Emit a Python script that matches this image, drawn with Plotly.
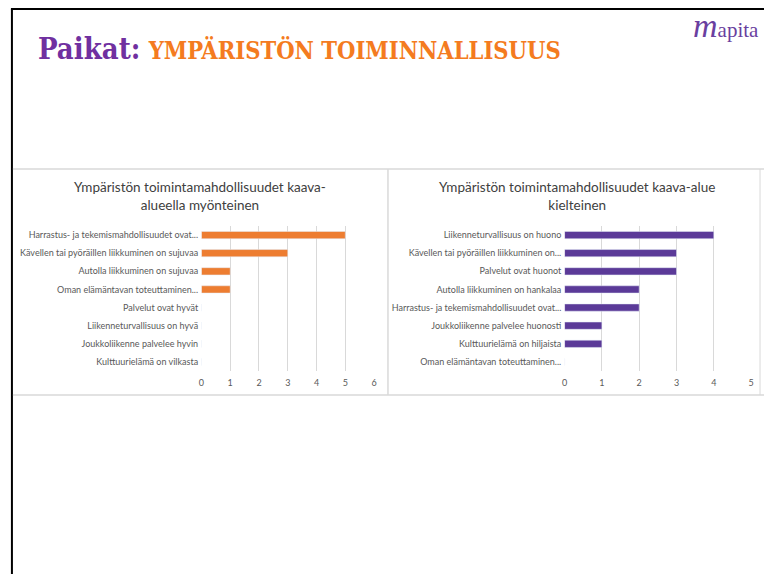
import plotly.graph_objects as go

W, H = 767, 574

# ---- data ----
left_categories = [
    "Harrastus- ja tekemismahdollisuudet ovat...",
    "Kävellen tai pyöräillen liikkuminen on sujuvaa",
    "Autolla liikkuminen on sujuvaa",
    "Oman elämäntavan toteuttaminen...",
    "Palvelut ovat hyvät",
    "Liikenneturvallisuus on hyvä",
    "Joukkoliikenne palvelee hyvin",
    "Kulttuurielämä on vilkasta",
]
left_values = [5, 3, 1, 1, 0, 0, 0, 0]

right_categories = [
    "Liikenneturvallisuus on huono",
    "Kävellen tai pyöräillen liikkuminen on...",
    "Palvelut ovat huonot",
    "Autolla liikkuminen on hankalaa",
    "Harrastus- ja tekemismahdollisuudet ovat...",
    "Joukkoliikenne palvelee huonosti",
    "Kulttuurielämä on hiljaista",
    "Oman elämäntavan toteuttaminen...",
]
right_values = [4, 3, 3, 2, 2, 1, 1, 0]

left_title = "Ympäristön toimintamahdollisuudet kaava-<br>alueella myönteinen"
right_title = "Ympäristön toimintamahdollisuudet kaava-alue<br>kielteinen"
left_ticks = [0, 1, 2, 3, 4, 5, 6]
right_ticks = [0, 1, 2, 3, 4, 5]

ORANGE = "#ED7D31"
PURPLE = "#5B3A98"
GRID = "#D9D9D9"
LABEL = "#595959"

def px_x(v):
    return v / W

def px_y(v):
    return 1 - v / H

fig = go.Figure()
fig.add_trace(go.Bar(x=left_values, y=left_categories, orientation="h",
                     marker_color=ORANGE, xaxis="x", yaxis="y", showlegend=False))
fig.add_trace(go.Bar(x=right_values, y=right_categories, orientation="h",
                     marker_color=PURPLE, xaxis="x2", yaxis="y2", showlegend=False))

ydom = [px_y(371), px_y(226)]
axis_font = dict(family="Lato", size=9, color=LABEL)

fig.update_layout(
    width=W, height=H,
    margin=dict(l=0, r=0, t=0, b=0),
    paper_bgcolor="white", plot_bgcolor="white",
    bargap=0.6,
    xaxis=dict(domain=[px_x(200), px_x(374)], range=[0, 6], tickvals=left_ticks,
               showgrid=True, gridcolor=GRID, gridwidth=1, zeroline=False,
               showline=False, ticks="", tickfont=axis_font, anchor="y",
               ticklabelstandoff=5),
    yaxis=dict(domain=ydom, categoryorder="array", categoryarray=left_categories,
               autorange="reversed", showgrid=False, zeroline=False, showline=False,
               ticks="", tickfont=axis_font, anchor="x", ticksuffix=" "),
    xaxis2=dict(domain=[px_x(566), px_x(754)], range=[0, 5], tickvals=right_ticks,
                showgrid=True, gridcolor=GRID, gridwidth=1, zeroline=False,
                showline=False, ticks="", tickfont=axis_font, anchor="y2",
                ticklabelstandoff=5),
    yaxis2=dict(domain=ydom, categoryorder="array", categoryarray=right_categories,
                autorange="reversed", showgrid=False, zeroline=False, showline=False,
                ticks="", tickfont=axis_font, anchor="x2", ticksuffix=" "),
)

shapes = [
    # slide black border (left and top)
    dict(type="line", xref="paper", yref="paper", x0=px_x(9), x1=px_x(9), y0=0, y1=px_y(9),
         line=dict(color="black", width=2)),
    dict(type="line", xref="paper", yref="paper", x0=px_x(8), x1=1, y0=px_y(9), y1=px_y(9),
         line=dict(color="black", width=2)),
    # chart panel borders
    dict(type="line", xref="paper", yref="paper", x0=px_x(10), x1=px_x(767), y0=px_y(169), y1=px_y(169),
         line=dict(color=GRID, width=1.5)),
    dict(type="line", xref="paper", yref="paper", x0=px_x(10), x1=px_x(767), y0=px_y(395), y1=px_y(395),
         line=dict(color=GRID, width=1.5)),
    dict(type="line", xref="paper", yref="paper", x0=px_x(388), x1=px_x(388), y0=px_y(395), y1=px_y(169),
         line=dict(color=GRID, width=1.5)),
    dict(type="line", xref="paper", yref="paper", x0=px_x(763), x1=px_x(763), y0=px_y(395), y1=px_y(169),
         line=dict(color=GRID, width=1)),
]
fig.update_layout(shapes=shapes)

annotations = [
    dict(text="<b>Paikat:</b> <b><span style='color:#F47B20;font-size:23.5px'>YMPÄRISTÖN TOIMINNALLISUUS</span></b>",
         xref="paper", yref="paper", x=px_x(33), y=px_y(49), xanchor="left", yanchor="middle",
         showarrow=False, font=dict(family="DejaVu Serif Condensed", size=29, color="#7030A0")),
    dict(text="<i><span style='font-size:34px'>m</span></i>apita",
         xref="paper", yref="paper", x=px_x(764), y=px_y(26), xanchor="right", yanchor="middle",
         showarrow=False, font=dict(family="Liberation Serif", size=21, color="#6A3FA0")),
    dict(text=left_title, xref="paper", yref="paper", x=px_x(199), y=px_y(196),
         xanchor="center", yanchor="middle", showarrow=False,
         font=dict(family="Lato", size=13.5, color="#404040")),
    dict(text=right_title, xref="paper", yref="paper", x=px_x(579), y=px_y(196),
         xanchor="center", yanchor="middle", showarrow=False,
         font=dict(family="Lato", size=13.5, color="#404040")),
]
fig.update_layout(annotations=annotations)

fig.write_html("out.html", config={"displayModeBar": False},
               post_script="document.body.style.margin='0';document.body.style.overflow='hidden';")
